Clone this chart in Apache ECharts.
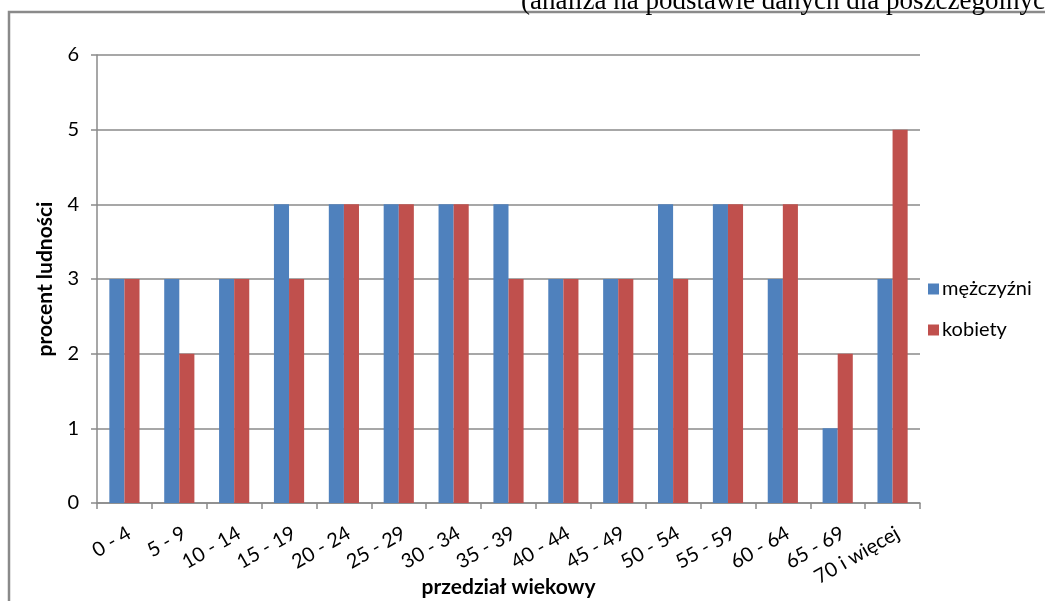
<!DOCTYPE html>
<html>
<head>
<meta charset="utf-8">
<script src="https://cdn.jsdelivr.net/npm/echarts@6/dist/echarts.min.js"></script>
<style>
html,body{margin:0;padding:0;background:#fff;}
#c{width:1045px;height:601px;}
</style>
</head>
<body>
<div id="c"></div>
<script>
const categories = ['0 - 4','5 - 9','10 - 14','15 - 19','20 - 24','25 - 29','30 - 34','35 - 39','40 - 44','45 - 49','50 - 54','55 - 59','60 - 64','65 - 69','70 i więcej'];
const men = [3,3,3,4,4,4,4,4,3,3,4,4,3,1,3];
const women = [3,2,3,3,4,4,4,3,3,3,3,4,4,2,5];
const seriesNames = ['mężczyźni','kobiety'];
const yTicks = {min:0, max:6, interval:1};
const headerText = '(analiza na podstawie danych dla poszczególnych';

const font = 'Lato';
const chart = echarts.init(document.getElementById('c'), null, {renderer:'canvas'});
chart.setOption({
  animation:false,
  backgroundColor:'#fff',
  graphic:[
    {type:'rect', shape:{x:9,y:12,width:1100,height:700}, style:{fill:'none', stroke:'#8a8a8a', lineWidth:2.5}, z:0},
    {type:'text', left:521, top:-12, style:{text:headerText, font:'27px "Liberation Serif"', fill:'#000'}}
  ],
  grid:{left:97, right:125, top:55, bottom:98, containLabel:false, outerBoundsMode:'none'},
  legend:{
    orient:'vertical', left:923, top:274, itemWidth:11, itemHeight:11, itemGap:21,
    icon:'rect',
    textStyle:{fontFamily:font, fontSize:20, color:'#000', padding:[0,0,0,-2]},
    data:seriesNames
  },
  xAxis:{
    type:'category', data:categories,
    name:'przedział wiekowy', nameLocation:'middle', nameGap:74, nameMoveOverlap:false,
    nameTextStyle:{fontFamily:font, fontSize:21, fontWeight:'bold', color:'#000', verticalAlign:'top'},
    axisLine:{lineStyle:{color:'#8a8a8a', width:1.5}},
    axisTick:{show:true, length:6, lineStyle:{color:'#8a8a8a', width:1.5}},
    axisLabel:{rotate:30, align:'right', verticalAlign:'top', fontFamily:font, fontSize:20, color:'#000', margin:20, interval:0}
  },
  yAxis:{
    type:'value', min:yTicks.min, max:yTicks.max, interval:yTicks.interval,
    name:'procent ludności', nameLocation:'middle', nameGap:41, nameRotate:90, nameMoveOverlap:false,
    nameTextStyle:{fontFamily:font, fontSize:21, fontWeight:'bold', color:'#000'},
    axisLine:{show:true, lineStyle:{color:'#8a8a8a', width:1.5}},
    axisTick:{show:true, length:6, lineStyle:{color:'#8a8a8a', width:1.5}},
    axisLabel:{fontFamily:font, fontSize:20, color:'#000', margin:18},
    splitLine:{lineStyle:{color:'#8a8a8a', width:1.5}}
  },
  series:[
    {name:seriesNames[0], type:'bar', data:men, barGap:'0%', barCategoryGap:'45%', itemStyle:{color:'#4F81BD'}},
    {name:seriesNames[1], type:'bar', data:women, barGap:'0%', barCategoryGap:'45%', itemStyle:{color:'#C0504D'}}
  ]
});
</script>
</body>
</html>
